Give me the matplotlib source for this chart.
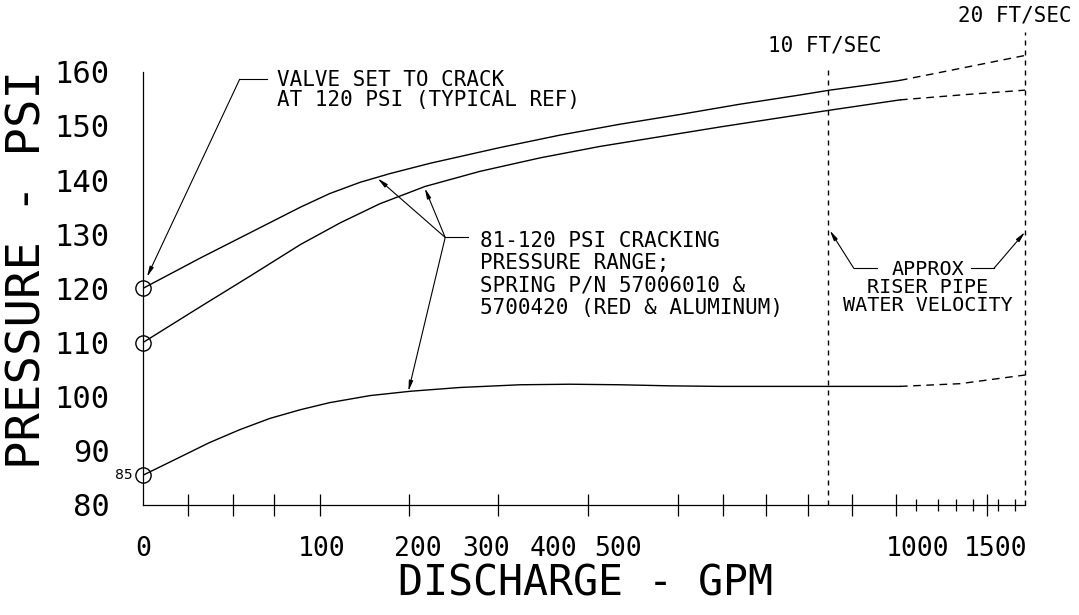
import matplotlib
matplotlib.use('Agg')
import matplotlib.pyplot as plt
import numpy as np

# discharge (GPM) vs pressure (PSI)
gpm_hi = [0, 32, 60, 88, 108, 140, 171, 218, 321, 411, 503, 603, 703, 803, 853, 920, 970]
psi_hi = [120.0, 125.6, 130.3, 135.0, 137.5, 139.6, 141.2, 143.1, 146.0, 148.3, 150.3,
          152.1, 154.0, 155.7, 156.6, 157.6, 158.4]
gpm_hi_ext = [970, 1269, 1700]
psi_hi_ext = [158.4, 160.6, 163.0]

gpm_mid = [0, 32, 60, 88, 119, 160, 210, 291, 381, 472, 570, 670, 770, 853, 970]
psi_mid = [110.0, 116.6, 122.3, 128.1, 132.1, 135.6, 138.8, 141.6, 144.1, 146.2, 148.0,
           149.8, 151.5, 152.9, 154.8]
gpm_mid_ext = [970, 1269, 1700]
psi_mid_ext = [154.8, 155.7, 156.6]

gpm_lo = [0, 21, 37, 54, 71, 88, 108, 150, 192, 262, 351, 426, 503, 587, 670, 970]
psi_lo = [85.5, 88.9, 91.5, 93.9, 96.0, 97.6, 98.9, 100.2, 101.0, 101.7, 102.2, 102.3,
          102.2, 102.0, 101.9, 101.9]
gpm_lo_ext = [970, 1269, 1700]
psi_lo_ext = [101.9, 102.4, 104.0]

start_gpm = [0, 0, 0]
start_psi = [120, 110, 85.5]

vel_gpm = [850, 1700]
vel_labels = ['10 FT/SEC', '20 FT/SEC']

xlabels = [0, 100, 200, 300, 400, 500, 1000, 1500]
xticks_tall = [25, 50, 73, 99, 191, 318, 454, 600, 675, 747, 817, 890, 963, 1442]
xticks_short = [997, 1128, 1244, 1353, 1513, 1631]
yvals = [80, 90, 100, 110, 120, 130, 140, 150, 160]

# the drawing's x axis is not linear: piecewise mapping through the labelled values
scale_gpm = np.array([0, 100, 200, 300, 400, 500, 1000, 1500, 1700], float)
scale_pos = np.array([143, 322, 418, 486, 553, 618, 918, 996, 1025], float)


def _lin(x, xa, ya):
    x = np.asarray(x, float)
    y = np.interp(x, xa, ya)
    lo = ya[0] + (x - xa[0]) * (ya[1] - ya[0]) / (xa[1] - xa[0])
    hi = ya[-1] + (x - xa[-1]) * (ya[-1] - ya[-2]) / (xa[-1] - xa[-2])
    return np.where(x < xa[0], lo, np.where(x > xa[-1], hi, y))


fwd = lambda x: _lin(x, scale_gpm, scale_pos)
inv = lambda p: _lin(p, scale_pos, scale_gpm)

MONO = 'DejaVu Sans Mono'
plt.rcParams['font.family'] = MONO

fig = plt.figure(figsize=(10.79, 6.15), dpi=100)
ax = fig.add_axes([143/1079, 110/615, (1025-143)/1079, 505/615])
ax.set_xscale('function', functions=(fwd, inv))
ax.set_xlim(0, 1700)
ax.set_ylim(80, 80 + 505/5.416)

for s in ['top', 'right']:
    ax.spines[s].set_visible(False)
ax.spines['left'].set_bounds(80, 160)
ax.spines['left'].set_linewidth(0.9)
ax.spines['bottom'].set_linewidth(0.9)

ax.set_yticks(yvals)
ax.set_yticklabels([str(v) for v in yvals], fontsize=22)
ax.set_yticks(yvals[1:], minor=True)
ax.set_xticks(xlabels)
ax.set_xticklabels([str(v) for v in xlabels], fontsize=19)
ax.set_xticks(xticks_tall, minor=True)
ax.tick_params(axis='both', which='major', length=0)
ax.tick_params(axis='y', which='major', pad=24)
ax.tick_params(axis='x', which='major', pad=22)
ax.tick_params(axis='both', which='minor', direction='inout', length=16, width=0.9)
ax.plot(xticks_short, [80]*len(xticks_short), ls='none', marker='|', ms=8, mew=0.9,
        color='black', clip_on=False)

ax.plot(gpm_hi, psi_hi, color='black', lw=1)
ax.plot(gpm_mid, psi_mid, color='black', lw=1)
ax.plot(gpm_lo, psi_lo, color='black', lw=1)
for gx, py in [(gpm_hi_ext, psi_hi_ext), (gpm_mid_ext, psi_mid_ext), (gpm_lo_ext, psi_lo_ext)]:
    ax.plot(gx, py, color='black', lw=1, dashes=(5.5, 4))
ax.plot(start_gpm, start_psi, ls='none', marker='o', ms=11, mfc='none', mec='black',
        mew=1, clip_on=False)
ax.annotate('85', (0, 85.5), xytext=(-14, 0), textcoords='offset points', fontsize=10,
            ha='center', va='center', family='DejaVu Sans')

# velocity lines
tops = [161.2, 167.3]
for g, t in zip(vel_gpm, tops):
    ax.plot([g, g], [80, t], color='black', lw=1, dashes=(3.6, 3.6), clip_on=False)
ax.text(845, 164.9, vel_labels[0], fontsize=15, ha='center', va='center')
ax.text(1631, 170.4, vel_labels[1], fontsize=15, ha='center', va='center')

ap = dict(arrowstyle='-|>,head_length=0.6,head_width=0.12', color='black', lw=0.8,
          shrinkA=0, shrinkB=0)

# valve note
ax.plot([54, 69], [158.6, 158.6], color='black', lw=0.8, clip_on=False)
ax.annotate('', xy=(2.2, 122.1), xytext=(54, 158.6), arrowprops=ap)
ax.text(75, 156.6, 'VALVE SET TO CRACK\nAT 120 PSI (TYPICAL REF)', fontsize=15,
        ha='left', va='center', linespacing=1.0)

# cracking range note
ax.plot([240, 273], [129.4, 129.4], color='black', lw=0.8)
for tip in [(158, 140.3), (210, 138.5), (190, 101.0)]:
    ax.annotate('', xy=tip, xytext=(240, 129.4), arrowprops=ap)
ax.text(291, 122.6, '81-120 PSI CRACKING\nPRESSURE RANGE;\nSPRING P/N 57006010 &\n5700420 (RED & ALUMINUM)',
        fontsize=15, ha='left', va='center', linespacing=1.15)

# riser pipe note
ax.plot([893, 932], [123.7, 123.7], color='black', lw=0.8)
ax.plot([1340, 1487], [123.7, 123.7], color='black', lw=0.8)
ax.annotate('', xy=(853, 130.7), xytext=(893, 123.7), arrowprops=ap)
ax.annotate('', xy=(1700, 130.4), xytext=(1487, 123.7), arrowprops=ap)
ax.text(1064, 120.2, 'APPROX\nRISER PIPE\nWATER VELOCITY', fontsize=14.5,
        ha='center', va='center', linespacing=0.95)

fig.text(28/1079, 1 - 270/615, 'PRESSURE - PSI', rotation=90, fontsize=34,
         ha='center', va='center')
fig.text(585/1079, 1 - 584/615, 'DISCHARGE - GPM', fontsize=30, ha='center', va='center')

fig.savefig('out.png', dpi=100)
